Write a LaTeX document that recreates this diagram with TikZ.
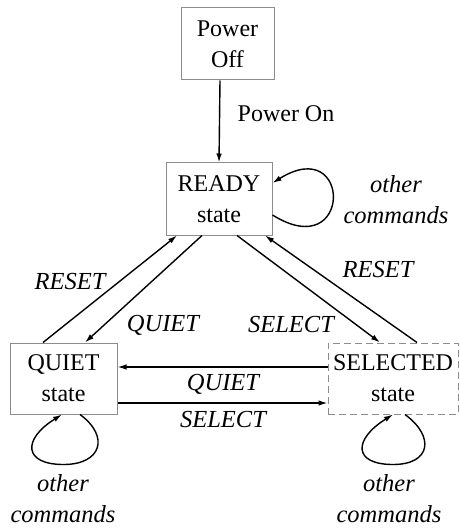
\documentclass[tikz,border=0pt]{standalone}
\usepackage{fontspec}
\setmainfont{Liberation Serif}
\usetikzlibrary{arrows.meta,calc}
\begin{document}
\begin{tikzpicture}[x=1pt,y=-1pt,
  box/.style={draw=black!45,line width=1pt,rectangle,inner sep=0pt,align=center,
    font=\fontsize{24}{31}\selectfont,minimum height=71pt},
  lbl/.style={font=\fontsize{24.5}{31}\selectfont\itshape,inner sep=0pt,align=center},
  plain/.style={font=\fontsize{24}{30}\selectfont,inner sep=0pt},
  arr/.style={draw=black,line width=1.4pt,-{Latex[length=9pt,width=5.5pt]}}]
\useasboundingbox (0,0) rectangle (459,529);
\node[box,minimum width=93pt,minimum height=72pt] (off) at (227.5,44) {Power\\Off};
\node[box,minimum width=106pt,minimum height=72pt] (ready) at (219,199) {READY\\state};
\node[box,minimum width=107pt] (quiet) at (63.5,378.5) {QUIET\\state};
\node[box,dashed,dash pattern=on 7pt off 4pt,minimum width=130pt] (sel) at (393,378.5) {SELECTED\\state};

\node[plain] (pon) at (286,114) {Power On};
\node[lbl] (oc1) at (396,200) {other\\commands};
\node[lbl] (rs1) at (70,282) {RESET};
\node[lbl] (qt1) at (163,325) {QUIET};
\node[lbl] (sl1) at (291,325) {SELECT};
\node[lbl] (rs2) at (378,270) {RESET};
\node[lbl] (qt2) at (223,384) {QUIET};
\node[lbl] (sl2) at (223,420) {SELECT};
\node[lbl] (oc2) at (63,499) {other\\commands};
\node[lbl] (oc3) at (389,499) {other\\commands};

\draw[arr] ([xshift=-7.5pt]off.south) -- (ready.north);
\draw[arr] ([xshift=-20.5pt]quiet.north) -- ([xshift=-42pt]ready.south);
\draw[arr] ([xshift=-17pt]ready.south) -- ([xshift=21.5pt]quiet.north);
\draw[arr] ([xshift=18pt]ready.south) -- ([xshift=-13pt]sel.north);
\draw[arr] ([xshift=24pt]sel.north) -- ([xshift=46pt]ready.south);
\draw[arr] ([yshift=11.5pt]sel.west) -- ([yshift=11.5pt]quiet.east);
\draw[arr] ([yshift=-24.5pt]quiet.east) -- ([yshift=-24.5pt]sel.west);
% self loops
\draw[arr] ([yshift=-16pt]ready.east) .. controls +(80,50) and +(80,-50) .. ([yshift=16pt]ready.east);
\draw[arr] ([xshift=16.5pt]quiet.south) .. controls +(30,22) and +(38,0) .. ([yshift=-50pt]quiet.south)
  .. controls +(-40,0) and +(-40,25) .. ([xshift=-1.5pt]quiet.south);
\draw[arr] ([xshift=12pt]sel.south) .. controls +(30,22) and +(38,0) .. ([yshift=-50pt]sel.south)
  .. controls +(-40,0) and +(-40,25) .. ([xshift=0pt]sel.south);
\end{tikzpicture}
\end{document}
